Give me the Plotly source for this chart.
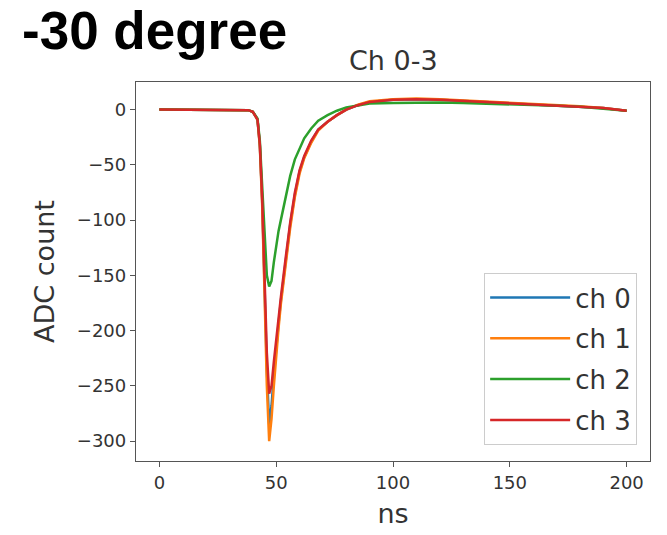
import plotly.graph_objects as go

# Time samples (ns)
ns = [0, 10, 20, 30, 38, 40, 41, 42, 43, 44, 45, 46, 47, 48, 49, 50, 51, 52, 54, 56,
      58, 60, 62, 65, 68, 72, 76, 80, 85, 90, 100, 110, 120, 130, 140, 150, 160, 170,
      180, 190, 200]

ch0 = [0, 0, 0, 0, -0.5, -2, -5, -9, -32, -82, -158, -235, -285, -268, -240, -215, -194,
       -173, -137, -104, -77, -56, -43, -29, -18, -11, -5, 0, 4, 7, 9, 9.5, 9, 8, 7, 6,
       5, 4, 3, 1.5, -1]
ch1 = [0, 0, 0, 0, -0.5, -2, -5, -9, -33, -86, -165, -250, -300, -280, -250, -222, -198,
       -176, -140, -107, -79, -58, -44, -30, -19, -11, -5, 0, 4.5, 7.5, 9.5, 10, 9.5,
       8.5, 7.5, 6, 5, 4, 3, 1.5, -1]
ch2 = [0, 0, 0, 0, -0.5, -2, -5, -8, -28, -70, -115, -150, -160, -155, -138, -122, -110,
       -100, -80, -60, -45, -35, -26, -17, -10, -5, -1, 2, 4, 5.5, 6, 6.5, 6.5, 6, 5.5,
       5, 4.5, 3.5, 2.5, 1, -1]
ch3 = [0, 0, 0, 0, -0.5, -2, -5, -9, -31, -80, -150, -220, -257, -250, -228, -208, -190,
       -170, -135, -102, -75, -55, -42, -28, -18, -11, -5, 0, 4, 7, 9, 9.5, 9, 8, 7, 6,
       5, 4, 3, 1.5, -1]

names = ["ch 0", "ch 1", "ch 2", "ch 3"]
colors = ["#1f77b4", "#ff7f0e", "#2ca02c", "#d62728"]
series = [ch0, ch1, ch2, ch3]

x_ticks = [0, 50, 100, 150, 200]
y_ticks = [0, -50, -100, -150, -200, -250, -300]

fig = go.Figure()
for name, col, vals in zip(names, colors, series):
    fig.add_trace(go.Scatter(x=ns, y=vals, mode="lines", name=name, legendgroup=name,
                             line=dict(color=col, width=2.5)))

axis_common = dict(showline=True, mirror=True, linecolor="#555555", linewidth=1.3,
                   ticks="outside", ticklen=5, tickcolor="#555555", tickwidth=1.2,
                   showgrid=False, zeroline=False,
                   tickfont=dict(family="DejaVu Sans", size=18, color="#333333"))

fig.update_layout(
    width=667, height=535,
    margin=dict(l=136, r=17, t=82, b=74),
    paper_bgcolor="white", plot_bgcolor="white",
    title=dict(text="<b>-30 degree</b>", xref="container", yref="container",
               x=0.033, xanchor="left", y=1 - 30 / 535, yanchor="middle",
               font=dict(family="Liberation Sans", size=53, color="black")),
    xaxis=dict(range=[-10, 210], tickvals=x_ticks,
               title=dict(text="ns", standoff=12,
                          font=dict(family="DejaVu Sans", size=27, color="#333333")),
               **axis_common),
    yaxis=dict(range=[-318, 25], tickvals=y_ticks,
               title=dict(text="ADC count", standoff=14,
                          font=dict(family="DejaVu Sans", size=27, color="#333333")),
               **axis_common),
    legend=dict(x=0.975, y=0.042, xanchor="right", yanchor="bottom",
                bgcolor="rgba(255,255,255,0.8)", bordercolor="#cccccc", borderwidth=1,
                font=dict(family="DejaVu Sans", size=26, color="#333333"),
                itemwidth=80, tracegroupgap=4),
    annotations=[dict(text="Ch 0-3", xref="paper", yref="paper", x=0.5, y=1,
                      xanchor="center", yanchor="bottom", yshift=4, showarrow=False,
                      font=dict(family="DejaVu Sans", size=27, color="#333333"))],
    showlegend=True,
)

fig.write_html("out.html")
